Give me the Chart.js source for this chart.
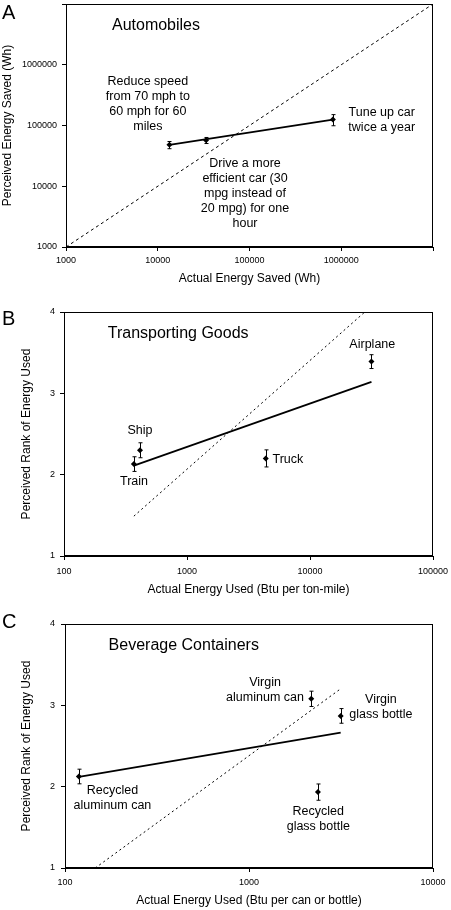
<!DOCTYPE html>
<html><head><meta charset="utf-8">
<script src="https://cdn.jsdelivr.net/npm/chart.js@4.4.1/dist/chart.umd.min.js"></script>
<style>
html,body{margin:0;padding:0;background:#fff;width:451px;height:910px;overflow:hidden}
canvas{position:absolute;left:0}
</style></head><body>
<canvas id="cA" width="451" height="300" style="top:0px"></canvas>
<canvas id="cB" width="451" height="305" style="top:300px"></canvas>
<canvas id="cC" width="451" height="305" style="top:605px"></canvas>
<script>
// ---------- Panel A: Automobiles ----------
const autoActual = [13400, 33600, 810000];
const autoPerceived = [48000, 57000, 125000];
const autoErr = [6500, 6500, 26000];
const autoTrendX = [13400, 810000];
const autoTrendY = [48000, 125000];
const autoDiagX = [1000, 10000000];
const autoDiagY = [1000, 10000000];
const autoTicks = [1000, 10000, 100000, 1000000, 10000000];
const autoTickLabels = ['1000', '10000', '100000', '1000000', ''];
const autoNotes = [
  {lines: ['Reduce speed', 'from 70 mph to', '60 mph for 60', 'miles'], x: 7800, y: 520000},
  {lines: ['Tune up car', 'twice a year'], x: 2760000, y: 162000},
  {lines: ['Drive a more', 'efficient car (30', 'mpg instead of', '20 mpg) for one', 'hour'], x: 89300, y: 23200}
];
const autoTitle = {text: 'Automobiles', x: 9570, y: 4370000};

// ---------- Panel B: Transporting Goods ----------
const goodsActual = [370, 415, 4370, 31600];
const goodsRank = [2.13, 2.30, 2.20, 3.39];
const goodsErr = [0.09, 0.092, 0.105, 0.085];
const goodsTrendX = [370, 31600];
const goodsTrendY = [2.11, 3.14];
const goodsDiagX = [370, 27900];
const goodsDiagY = [1.49, 4];
const goodsXTicks = [100, 1000, 10000, 100000];
const goodsXLabels = ['100', '1000', '10000', '100000'];
const rankTicks = [1, 2, 3, 4];
const rankLabels = ['1', '2', '3', '4'];
const goodsNotes = [
  {lines: ['Airplane'], x: 32100, y: 3.60},
  {lines: ['Ship'], x: 415, y: 2.547},
  {lines: ['Train'], x: 371, y: 1.912},
  {lines: ['Truck'], x: 6610, y: 2.191}
];
const goodsTitle = {text: 'Transporting Goods', x: 847, y: 3.735};

// ---------- Panel C: Beverage Containers ----------
const bevActual = [119, 2180, 3150, 2370];
const bevRank = [2.125, 3.08, 2.87, 1.933];
const bevErr = [0.09, 0.094, 0.09, 0.1];
const bevTrendX = [119, 3150];
const bevTrendY = [2.12, 2.665];
const bevDiagX = [146, 3090];
const bevDiagY = [1, 3.19];
const bevXTicks = [100, 1000, 10000];
const bevXLabels = ['100', '1000', '10000'];
const bevNotes = [
  {lines: ['Virgin', 'aluminum can'], x: 1222, y: 3.279},
  {lines: ['Virgin', 'glass bottle'], x: 5210, y: 3.067},
  {lines: ['Recycled', 'aluminum can'], x: 181, y: 1.953},
  {lines: ['Recycled', 'glass bottle'], x: 2380, y: 1.691}
];
const bevTitle = {text: 'Beverage Containers', x: 442, y: 3.734};

const FONT = '"Liberation Sans", Arial, Helvetica, sans-serif';
const INK = '#000';

function pts(xs, ys) { return xs.map((x, i) => ({x: x, y: ys[i]})); }

function makePanel(id, p) {
  const canvas = document.getElementById(id);
  const H = canvas.height;
  const deco = {
    id: 'deco_' + id,
    afterDatasetsDraw(chart) {
      const c = chart.ctx, xs = chart.scales.x, ys = chart.scales.y, a = chart.chartArea;
      c.save();
      // frame
      c.strokeStyle = INK; c.lineWidth = 1;
      c.strokeRect(Math.round(a.left) + 0.5, Math.round(a.top) + 0.5, Math.round(a.right - a.left) - 1, Math.round(a.bottom - a.top) - 1);
      // error bars
      chart.data.datasets[2].data.forEach((pt, i) => {
        const e = p.errs[i];
        const px = Math.round(xs.getPixelForValue(pt.x)) + 0.5;
        const y1 = ys.getPixelForValue(pt.y - e), y2 = ys.getPixelForValue(pt.y + e);
        c.beginPath();
        c.moveTo(px, y1); c.lineTo(px, y2);
        c.moveTo(px - 2, y1); c.lineTo(px + 2, y1);
        c.moveTo(px - 2, y2); c.lineTo(px + 2, y2);
        c.stroke();
      });
      // notes
      c.fillStyle = INK;
      c.textAlign = 'center'; c.textBaseline = 'middle';
      c.font = '12.5px ' + FONT;
      p.notes.forEach(n => {
        const nx = xs.getPixelForValue(n.x), ny = ys.getPixelForValue(n.y);
        n.lines.forEach((ln, k) => c.fillText(ln, nx, ny + k * 14.8));
      });
      c.font = '16px ' + FONT;
      c.fillText(p.title.text, xs.getPixelForValue(p.title.x), ys.getPixelForValue(p.title.y));
      c.font = '20px ' + FONT;
      c.textAlign = 'left';
      c.fillText(p.letter, 2, p.letterY);
      c.restore();
    }
  };
  return new Chart(canvas, {
    type: 'scatter',
    data: {
      datasets: [
        {data: pts(p.diagX, p.diagY), showLine: true, borderColor: INK, borderWidth: 1, borderDash: p.dash, pointRadius: 0},
        {data: pts(p.trendX, p.trendY), showLine: true, borderColor: INK, borderWidth: 1.8, pointRadius: 0},
        {data: pts(p.xs, p.ys), showLine: false, pointStyle: 'rectRot', pointRadius: 3, backgroundColor: INK, borderColor: INK, borderWidth: 0}
      ]
    },
    options: {
      responsive: false, animation: false, devicePixelRatio: 1,
      layout: {padding: {top: p.top, right: 451 - p.right, left: 0, bottom: 0}},
      plugins: {legend: {display: false}, tooltip: {enabled: false}},
      scales: {
        x: {
          type: 'logarithmic', min: p.xTicks[0], max: p.xTicks[p.xTicks.length - 1],
          afterBuildTicks: s => { s.ticks = p.xTicks.map(v => ({value: v})); },
          afterFit: s => { s.height = H - p.bottom; s.paddingLeft = 0; s.paddingRight = 0; },
          ticks: {autoSkip: false, maxRotation: 0, minRotation: 0, padding: p.xTickPad, color: INK,
                  font: {family: FONT, size: 9}, callback: (v, i) => p.xLabels[i]},
          grid: {drawOnChartArea: false, drawTicks: true, tickLength: 4, color: INK},
          border: {display: true, color: INK, width: 1},
          title: {display: true, text: p.xTitle, color: INK, font: {family: FONT, size: 12},
                  padding: {top: 0, bottom: p.xTitlePad}}
        },
        y: {
          type: p.yType, min: p.yTicks[0], max: p.yTicks[p.yTicks.length - 1],
          afterBuildTicks: s => { s.ticks = p.yTicks.map(v => ({value: v})); },
          afterFit: s => { s.width = p.left; s.paddingTop = 0; s.paddingBottom = 0; },
          ticks: {autoSkip: false, padding: p.yTickPad, color: INK,
                  font: {family: FONT, size: 9}, callback: (v, i) => p.yLabels[i]},
          grid: {drawOnChartArea: false, drawTicks: true, tickLength: 4, color: INK},
          border: {display: true, color: INK, width: 1},
          title: {display: true, text: p.yTitle, color: INK, font: {family: FONT, size: 12},
                  padding: {top: p.yTitlePad, bottom: 0}}
        }
      }
    },
    plugins: [deco]
  });
}

makePanel('cA', {
  xs: autoActual, ys: autoPerceived, errs: autoErr,
  trendX: autoTrendX, trendY: autoTrendY, diagX: autoDiagX, diagY: autoDiagY, dash: [3, 3],
  xTicks: autoTicks, xLabels: autoTickLabels, yTicks: autoTicks, yLabels: autoTickLabels, yType: 'logarithmic',
  notes: autoNotes, title: autoTitle, letter: 'A', letterY: 13,
  top: 2, bottom: 247, left: 66, right: 433,
  xTickPad: 4.6, yTickPad: 5, xTitlePad: 13.8, yTitlePad: 0,
  xTitle: 'Actual Energy Saved (Wh)', yTitle: 'Perceived Energy Saved (Wh)'
});
makePanel('cB', {
  xs: goodsActual, ys: goodsRank, errs: goodsErr,
  trendX: goodsTrendX, trendY: goodsTrendY, diagX: goodsDiagX, diagY: goodsDiagY, dash: [2, 3],
  xTicks: goodsXTicks, xLabels: goodsXLabels, yTicks: rankTicks, yLabels: rankLabels, yType: 'linear',
  notes: goodsNotes, title: goodsTitle, letter: 'B', letterY: 19,
  top: 12, bottom: 256, left: 64, right: 433,
  xTickPad: 6.3, yTickPad: 5, xTitlePad: 8.1, yTitlePad: 19.5,
  xTitle: 'Actual Energy Used (Btu per ton-mile)', yTitle: 'Perceived Rank of Energy Used'
});
makePanel('cC', {
  xs: bevActual, ys: bevRank, errs: bevErr,
  trendX: bevTrendX, trendY: bevTrendY, diagX: bevDiagX, diagY: bevDiagY, dash: [2, 3],
  xTicks: bevXTicks, xLabels: bevXLabels, yTicks: rankTicks, yLabels: rankLabels, yType: 'linear',
  notes: bevNotes, title: bevTitle, letter: 'C', letterY: 17.5,
  top: 19, bottom: 263, left: 65, right: 433,
  xTickPad: 5.6, yTickPad: 6, xTitlePad: 2, yTitlePad: 19.5,
  xTitle: 'Actual Energy Used (Btu per can or bottle)', yTitle: 'Perceived Rank of Energy Used'
});
</script>
</body></html>
